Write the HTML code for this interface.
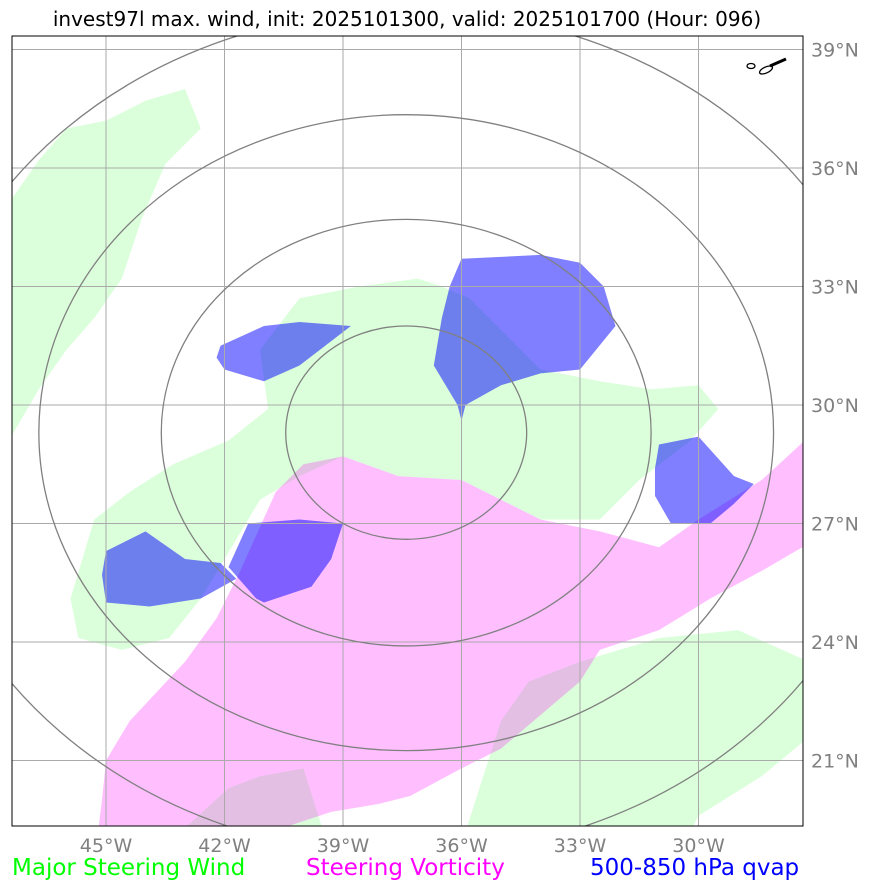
<!DOCTYPE html>
<html><head><meta charset="utf-8"><style>
body{margin:0;background:#fff;width:873px;height:891px;overflow:hidden;font-family:"DejaVu Sans","Liberation Sans",sans-serif}
svg{position:absolute;left:0;top:0}
</style></head><body>
<svg id="chart" width="873" height="891">
<text x="407" y="26" text-anchor="middle" font-size="20" fill="#000">invest97l max. wind, init: 2025101300, valid: 2025101700 (Hour: 096)</text>
<defs><clipPath id="clip"><rect x="12" y="36" width="791" height="790"/></clipPath></defs>
<g id="plot" clip-path="url(#clip)"></g>
<rect x="12" y="36" width="791" height="790" fill="none" stroke="#000" stroke-width="1"/>
<g id="ticks"></g>
<text x="12" y="875" font-size="23" fill="#00ff00">Major Steering Wind</text>
<text x="306" y="875" font-size="23" fill="#ff00ff">Steering Vorticity</text>
<text x="590" y="875" font-size="23" fill="#0000ff">500-850 hPa qvap</text>
</svg>
<script>
const lonTicks=[-45,-42,-39,-36,-33,-30];
const latTicks=[39,36,33,30,27,24,21];
const ringCenter=[-37.4,29.3];
const ringRadiiLon=[3.05,6.2,9.3,12.4];
const ringRadiiLat=[2.7,5.4,8.05,10.7];
const greenAreas=[
[[-47.4,35.2],[-46.7,36.2],[-46.0,37.0],[-45.0,37.2],[-44.0,37.7],[-43.0,38.0],[-42.6,37.0],[-43.5,36.1],[-44.1,34.7],[-44.6,33.2],[-45.3,32.2],[-46.0,31.4],[-46.7,30.4],[-47.4,29.2],[-48,28],[-48,36]],
[[-45.9,25.1],[-45.3,27.1],[-44.4,27.8],[-43.3,28.5],[-41.9,29.1],[-40.9,29.9],[-41.1,31.4],[-40.1,32.7],[-38.6,33.0],[-37.1,33.2],[-36.5,33.0],[-35.8,32.7],[-34.5,31.4],[-34.0,30.9],[-32.5,30.6],[-31.2,30.4],[-30.0,30.5],[-29.5,29.9],[-30.2,29.1],[-31.5,28.1],[-32.5,27.1],[-34.0,27.1],[-35.0,27.6],[-36.0,28.1],[-37.6,28.2],[-39.0,28.7],[-40.1,28.2],[-41.1,27.6],[-42.0,26.1],[-42.6,25.1],[-43.4,24.1],[-44.6,23.8],[-45.7,24.1]],
[[-35.9,19.2],[-35.0,22.0],[-34.3,23.0],[-33.0,23.5],[-31.0,24.1],[-29.0,24.3],[-27.2,23.5],[-27.2,21.6],[-28.4,20.6],[-30.0,19.6],[-30.2,19.2]],
[[-43.1,19.2],[-41.9,20.3],[-41.1,20.6],[-40.0,20.8],[-39.5,19.2]]
];
const pinkAreas=[
[[-45.1,20.0],[-45.0,21.0],[-44.4,22.0],[-43.0,23.5],[-42.2,24.6],[-41.6,25.8],[-40.7,27.8],[-40.0,28.5],[-39.0,28.7],[-37.6,28.2],[-36.0,28.1],[-35.0,27.6],[-34.0,27.1],[-32.5,26.8],[-31.0,26.4],[-30.0,27.1],[-28.4,28.1],[-27.2,29.2],[-27.2,26.5],[-28.4,25.8],[-29.7,25.1],[-31.0,24.3],[-32.5,23.8],[-33.0,23.0],[-35.0,21.3],[-36.0,20.8],[-37.3,20.1],[-38.1,19.9],[-39.3,19.7],[-40.8,19.2],[-45.2,19.2]]
];
const blueAreas=[
[[-42.1,31.5],[-41.0,32.0],[-40.1,32.1],[-38.8,32.0],[-40.1,31.0],[-41.0,30.6],[-42.0,30.9],[-42.2,31.2]],
[[-36.0,33.7],[-34.0,33.8],[-33.0,33.6],[-32.4,33.0],[-32.1,32.0],[-33.0,30.9],[-34.0,30.8],[-35.0,30.5],[-35.9,30.0],[-36.0,29.6],[-36.1,30.0],[-36.7,31.0],[-36.5,32.2],[-36.3,33.0]],
[[-31.0,29.0],[-30.0,29.2],[-29.1,28.2],[-28.6,28.0],[-29.1,27.5],[-29.7,27.0],[-30.7,27.0],[-31.1,27.7],[-31.1,28.4]],
[[-45.0,26.3],[-44.0,26.8],[-43.0,26.1],[-42.1,26.0],[-41.7,25.6],[-42.6,25.1],[-43.9,24.9],[-45.0,25.0],[-45.1,25.7]],
[[-41.9,25.9],[-41.4,27.0],[-40.1,27.1],[-39.0,27.0],[-39.3,26.1],[-39.8,25.4],[-41.0,25.0],[-41.2,25.1]]
];
const PX=39.5;
function xs(lon){return 106+(lon+45)*PX;}
function ys(lat){return 405-(lat-30)*PX;}
const NS='http://www.w3.org/2000/svg';
const plot=document.getElementById('plot'), ticks=document.getElementById('ticks');
function mk(tag,attrs,parent){const e=document.createElementNS(NS,tag);for(const k in attrs)e.setAttribute(k,attrs[k]);parent.appendChild(e);return e;}
function poly(pts,fill,name){
  const e=mk('polygon',{points:pts.map(p=>xs(p[0]).toFixed(1)+','+ys(p[1]).toFixed(1)).join(' '),fill:fill},plot);
  
  
}
greenAreas.forEach((a,i)=>poly(a,'rgba(0,255,0,0.14)','steering-wind-area-'+(i+1)));
pinkAreas.forEach((a,i)=>poly(a,'rgba(255,0,255,0.25)','vorticity-area-'+(i+1)));
blueAreas.forEach((a,i)=>poly(a,'rgba(0,0,255,0.5)','qvap-area-'+(i+1)));
// coastline bits
mk('ellipse',{cx:751,cy:66,rx:4,ry:2.5,fill:'none',stroke:'#000','stroke-width':1.3},plot);
mk('ellipse',{cx:766,cy:70,rx:7,ry:3,transform:'rotate(-25 766 70)',fill:'none',stroke:'#000','stroke-width':1.3},plot);
mk('line',{x1:770,y1:66,x2:786,y2:59,stroke:'#000','stroke-width':3},plot);
// grid
lonTicks.forEach(l=>{
  const ln=mk('line',{x1:xs(l),x2:xs(l),y1:36,y2:826,stroke:'#aaa','stroke-width':1},plot);
  
  
  const t=mk('text',{x:xs(l),y:852,'text-anchor':'middle','font-size':19,fill:'#808080'},ticks);
  t.textContent=Math.abs(l)+'°W';
  
  
});
latTicks.forEach(l=>{
  const ln=mk('line',{x1:12,x2:803,y1:ys(l),y2:ys(l),stroke:'#aaa','stroke-width':1},plot);
  
  
  const t=mk('text',{x:811,y:ys(l)+7,'font-size':19,fill:'#808080'},ticks);
  t.textContent=l+'°N';
  
  
});
ringRadiiLon.forEach((r,i)=>{
  const e=mk('ellipse',{cx:xs(ringCenter[0]),cy:ys(ringCenter[1]),rx:r*PX,ry:ringRadiiLat[i]*PX,fill:'none',stroke:'#808080','stroke-width':1.3},plot);
  
  
});
</script>
</body></html>
